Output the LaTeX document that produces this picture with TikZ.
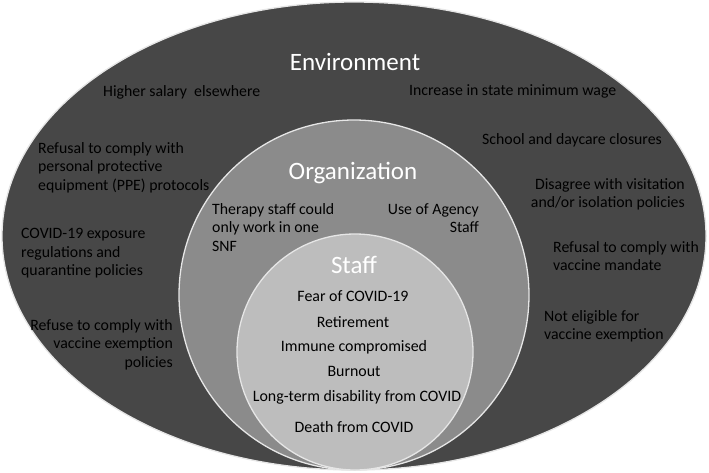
\documentclass[tikz,border=0pt]{standalone}
\usepackage{fontspec}
\setmainfont{Carlito}
\definecolor{envfill}{HTML}{474747}
\definecolor{orgfill}{HTML}{8B8B8B}
\definecolor{stafffill}{HTML}{BDBDBD}
\definecolor{rim}{HTML}{E6E6E6}
\begin{document}
\begin{tikzpicture}[x=1pt,y=-1pt,
  ring/.style={draw=rim,line width=1.3pt},
  title/.style={text=white,font=\fontsize{25}{30}\selectfont,inner sep=0pt},
  item/.style={text=black,font=\fontsize{15.8}{18.6}\selectfont,inner sep=0pt},
  sitem/.style={text=black,font=\fontsize{15.9}{18.6}\selectfont,inner sep=0pt}]
\useasboundingbox (0,0) rectangle (709,472);
\fill[white] (0,0) rectangle (709,472);
\path[ring,fill=envfill] (354,236) ellipse[x radius=352pt,y radius=234pt];
\path[ring,fill=orgfill] (354,295) circle[radius=175pt];
\path[ring,fill=stafffill] (355,352) circle[radius=118pt];
% titles
\node[title] (env) at (355,62) {Environment};
\node[title] (org) at (353,173) {Organization};
\node[title] (stf) at (354,265) {Staff};
% environment items
\node[item,anchor=west] (e1) at (103,92) {Higher salary\ \ elsewhere};
\node[item,anchor=west] (e2) at (409,91) {Increase in state minimum wage};
\node[item,anchor=west] (e3) at (482,140) {School and daycare closures};
\node[item,anchor=north east,align=right] (e4) at (685,178) {Disagree with visitation\\and/or isolation policies};
\node[item,anchor=north west,align=left] (e5) at (38,142) {Refusal to comply with\\personal protective\\equipment (PPE) protocols};
\node[item,anchor=north west,align=left] (e6) at (21,228) {COVID-19 exposure\\regulations and\\quarantine policies};
\node[item,anchor=north east,align=right] (e7) at (173,319) {Refuse to comply with\\vaccine exemption\\policies};
\node[item,anchor=north west,align=left] (e8) at (553,241) {Refusal to comply with\\vaccine mandate};
\node[item,anchor=north west,align=left] (e9) at (544,310) {Not eligible for\\vaccine exemption};
% organization items
\node[item,anchor=north west,align=left] (o1) at (212,203) {Therapy staff could\\only work in one\\SNF};
\node[item,anchor=north east,align=right] (o2) at (479,203) {Use of Agency\\Staff};
% staff items
\node[sitem] (s1) at (353,296) {Fear of COVID-19};
\node[sitem] (s2) at (353,322) {Retirement};
\node[sitem] (s3) at (354,347) {Immune compromised};
\node[sitem] (s4) at (354,371) {Burnout};
\node[sitem] (s5) at (357,397) {Long-term disability from COVID};
\node[sitem] (s6) at (354,427) {Death from COVID};
\end{tikzpicture}
\end{document}
